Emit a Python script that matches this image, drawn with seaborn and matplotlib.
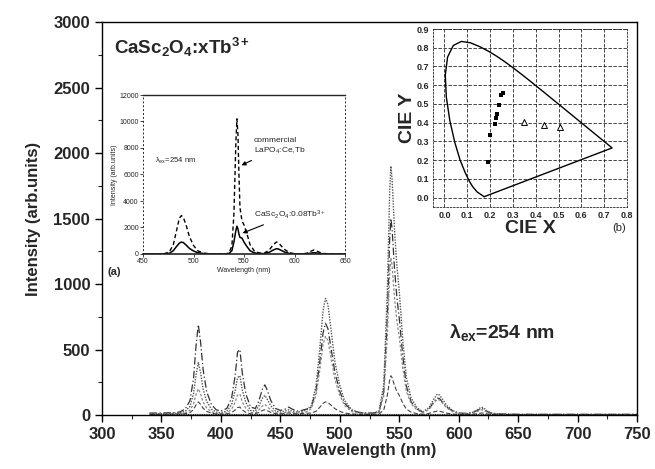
import matplotlib
matplotlib.use("Agg")
import matplotlib.pyplot as plt
import seaborn as sns
import numpy as np

sns.set_theme(style="ticks")
plt.rcParams['font.family'] = ['Liberation Sans', 'DejaVu Sans']
plt.rcParams['mathtext.fontset'] = 'custom'
plt.rcParams['mathtext.rm'] = 'Liberation Sans'
plt.rcParams['mathtext.bf'] = 'Liberation Sans:bold'
plt.rcParams['mathtext.it'] = 'Liberation Sans:italic'
plt.rcParams['mathtext.default'] = 'regular'

# ---------------- main emission spectra ----------------
wl = [340, 350, 360, 365, 370, 374, 377, 379, 381, 383, 385, 388, 392, 396, 400,
      405, 409, 412, 414, 416, 418, 421, 425, 429, 432, 435, 437, 439, 442, 446,
      450, 454, 457, 460, 464, 468, 472, 476, 480, 483, 486, 488, 490, 493, 496,
      500, 504, 510, 516, 522, 528, 533, 537, 540, 542, 543, 544, 546, 548, 550,
      553, 556, 560, 565, 570, 575, 579, 582, 584, 587, 590, 595, 600, 607, 612,
      616, 619, 621, 624, 628, 635, 650, 700, 750]

s1 = [15, 15, 18, 22, 45, 110, 280, 520, 690, 550, 350, 180, 80, 40, 30,
      50, 130, 300, 480, 500, 320, 160, 60, 50, 110, 200, 230, 190, 110, 50,
      35, 45, 60, 45, 30, 35, 45, 60, 180, 390, 630, 700, 660, 490, 320,
      180, 90, 35, 20, 15, 15, 25, 180, 750, 1350, 1500, 1420, 1120, 900, 740,
      450, 220, 100, 45, 20, 45, 100, 130, 125, 90, 60, 30, 15, 12, 20,
      35, 50, 45, 25, 12, 8, 5, 5, 5]

s2 = [10, 10, 12, 15, 28, 65, 165, 300, 400, 320, 200, 105, 45, 22, 18,
      30, 80, 185, 285, 300, 190, 95, 35, 30, 70, 130, 150, 120, 70, 30,
      22, 30, 40, 30, 22, 28, 38, 70, 220, 490, 800, 890, 845, 625, 400,
      225, 110, 40, 20, 14, 14, 30, 230, 950, 1710, 1900, 1800, 1420, 1140, 950,
      570, 285, 130, 55, 25, 56, 120, 160, 152, 112, 72, 34, 14, 10, 20,
      42, 60, 54, 30, 14, 7, 4, 4, 4]

s3 = [8, 8, 9, 10, 16, 35, 85, 155, 200, 160, 100, 55, 24, 12, 10,
      17, 44, 98, 152, 160, 100, 50, 20, 16, 38, 70, 80, 65, 38, 17,
      12, 18, 25, 18, 14, 18, 24, 48, 150, 330, 540, 600, 570, 420, 270,
      150, 72, 26, 14, 10, 10, 20, 145, 600, 1080, 1200, 1140, 900, 720, 600,
      360, 180, 85, 38, 18, 42, 90, 120, 114, 84, 54, 25, 10, 8, 14,
      28, 40, 36, 20, 9, 5, 3, 3, 3]

s4 = [5, 5, 6, 7, 10, 18, 42, 76, 100, 80, 52, 28, 14, 8, 7,
      9, 18, 38, 57, 60, 38, 20, 9, 10, 20, 35, 40, 33, 20, 10,
      8, 12, 16, 12, 9, 11, 14, 14, 28, 57, 90, 100, 95, 72, 48,
      28, 15, 8, 6, 5, 5, 8, 38, 150, 270, 300, 285, 225, 180, 150,
      90, 45, 22, 10, 6, 12, 23, 30, 29, 21, 14, 7, 4, 3, 5,
      11, 15, 14, 8, 4, 3, 2, 2, 2]

main_series = [s1, s2, s3, s4]
main_styles = [("#333333", (0, (6, 2, 1, 2)), 0.9),
               ("#555555", (0, (1, 1)), 1.0),
               ("#888888", (0, (2, 1.5)), 0.9),
               ("#444444", (0, (4, 2)), 0.8)]

baseline_x = [340, 750]
baseline_y = [8, 8]

x_ticks = [300, 350, 400, 450, 500, 550, 600, 650, 700, 750]
y_ticks = [0, 500, 1000, 1500, 2000, 2500, 3000]

# ---------------- inset (a) spectra ----------------
wl_in = [450, 470, 476, 480, 483, 486, 488, 490, 493, 496, 500, 504, 510, 520,
         530, 535, 538, 540, 542, 543, 544, 545, 546, 548, 550, 553, 556, 560,
         565, 570, 575, 579, 582, 584, 587, 590, 595, 600, 607, 612, 616, 619,
         621, 624, 628, 635, 650]
commercial = [0, 0, 150, 700, 1700, 2700, 2900, 2750, 2100, 1300, 650, 250, 60, 0,
              0, 60, 600, 3000, 8500, 10200, 9000, 6000, 3500, 2500, 2200, 1500, 700, 250,
              80, 60, 300, 700, 900, 860, 600, 350, 100, 20, 0, 60, 200, 300,
              270, 150, 50, 0, 0]
casc = [0, 0, 50, 250, 550, 820, 900, 860, 650, 420, 230, 100, 30, 0,
        0, 30, 250, 900, 1800, 2100, 1900, 1500, 1250, 1200, 900, 550, 250, 90,
        30, 30, 130, 300, 400, 380, 270, 150, 40, 10, 0, 20, 60, 100,
        90, 50, 15, 0, 0]

# ---------------- inset (b) CIE chromaticity ----------------
locus_x = [0.1741, 0.1440, 0.1241, 0.1096, 0.0913, 0.0687, 0.0454, 0.0235, 0.0082,
           0.0039, 0.0139, 0.0389, 0.0743, 0.1142, 0.1547, 0.1929, 0.2296, 0.2658,
           0.3016, 0.3373, 0.3731, 0.4441, 0.5125, 0.5752, 0.6270, 0.6915, 0.7190,
           0.7347, 0.1741]
locus_y = [0.0050, 0.0297, 0.0578, 0.0868, 0.1327, 0.2007, 0.2950, 0.4127, 0.5384,
           0.6548, 0.7502, 0.8120, 0.8338, 0.8262, 0.8059, 0.7816, 0.7543, 0.7243,
           0.6923, 0.6589, 0.6245, 0.5547, 0.4866, 0.4242, 0.3725, 0.3083, 0.2809,
           0.2653, 0.0050]
pts_x = [0.19, 0.20, 0.22, 0.225, 0.232, 0.238, 0.25, 0.258]
pts_y = [0.19, 0.335, 0.395, 0.425, 0.445, 0.495, 0.548, 0.558]
tri_x = [0.347, 0.435, 0.506]
tri_y = [0.405, 0.388, 0.378]
cie_ticks_x = [0.0, 0.1, 0.2, 0.3, 0.4, 0.5, 0.6, 0.7, 0.8]
cie_ticks_y = [0.0, 0.1, 0.2, 0.3, 0.4, 0.5, 0.6, 0.7, 0.8, 0.9]

# ======================= figure =======================
fig = plt.figure(figsize=(6.55, 4.69), dpi=100)
ax = fig.add_axes([102/655, 1-415/469, (637-102)/655, (415-22)/469])

for ser, (c, ls, lw) in zip(main_series, main_styles):
    sns.lineplot(x=wl, y=ser, ax=ax, color=c, linestyle=ls, linewidth=lw)
ax.plot(baseline_x, baseline_y, color="#222222", linewidth=0.8, linestyle=(0, (1, 0.6)))

ax.set_xlim(300, 750)
ax.set_ylim(0, 3000)
ax.set_xticks(x_ticks)
ax.set_yticks(y_ticks)
ax.set_xticks(np.arange(325, 750, 50), minor=True)
ax.set_yticks(np.arange(250, 3000, 500), minor=True)
ax.tick_params(axis='both', which='major', direction='out', length=5, width=1,
               labelsize=12, color='black')
ax.tick_params(axis='both', which='minor', direction='out', length=3, width=0.8)
for lab in ax.get_xticklabels() + ax.get_yticklabels():
    lab.set_fontweight('bold')
ax.set_xlabel("Wavelength (nm)", fontsize=12, fontweight='bold', labelpad=1)
ax.set_ylabel("Intensity (arb.units)", fontsize=12, fontweight='bold', labelpad=9)
for sp in ax.spines.values():
    sp.set_visible(True)
    sp.set_color('black')
    sp.set_linewidth(1.0)

ax.text(0.022, 0.965, r"CaSc$_2$O$_4$:xTb$^{3+}$", transform=ax.transAxes,
        fontsize=13.5, fontweight='bold', va='top', ha='left')
ax.text(592, 630, r"$\lambda_{ex}$=254 nm", fontsize=14, fontweight='bold',
        ha='left', va='center')
fig.text(108/655, 1-272/469, "(a)", fontsize=8, fontweight='bold', va='center')
fig.text(612/655, 1-228/469, "(b)", fontsize=8, va='center')

# ---------------- inset (a) ----------------
axa = fig.add_axes([143/655, 1-254/469, (345-143)/655, (254-95)/469])
sns.lineplot(x=wl_in, y=commercial, ax=axa, color='black', linestyle=(0, (3, 2)), linewidth=1.0)
sns.lineplot(x=wl_in, y=casc, ax=axa, color='black', linewidth=1.1)
axa.set_xlim(450, 650)
axa.set_ylim(0, 12000)
axa.set_xticks([450, 500, 550, 600, 650])
axa.set_yticks([0, 2000, 4000, 6000, 8000, 10000, 12000])
axa.tick_params(axis='both', which='major', labelsize=5, length=2, width=0.6, pad=1)
axa.set_xlabel("Wavelength (nm)", fontsize=5, labelpad=1)
axa.set_ylabel("Intensity (arb.units)", fontsize=5, labelpad=1)
axa.patch.set_alpha(0)
for s in ['left', 'right']:
    axa.spines[s].set_linestyle((0, (1, 3)))
    axa.spines[s].set_linewidth(0.7)
axa.spines['top'].set_linewidth(1.0)
axa.spines['bottom'].set_linewidth(1.2)
axa.text(462, 7000, r"$\lambda_{ex}$=254 nm", fontsize=5.5, va='center')
axa.annotate("commercial\nLaPO$_4$:Ce,Tb", xy=(545, 6600), xytext=(560, 8100),
             fontsize=6, va='center', ha='left',
             arrowprops=dict(arrowstyle='-|>', color='black', lw=0.8, mutation_scale=6))
axa.annotate(r"CaSc$_2$O$_4$:0.08Tb$^{3+}$", xy=(546, 1500), xytext=(560, 3000),
             fontsize=6, va='center', ha='left',
             arrowprops=dict(arrowstyle='-|>', color='black', lw=0.8, mutation_scale=6))

# ---------------- inset (b) ----------------
axb = fig.add_axes([433/655, 1-207/469, (627-433)/655, (207-29)/469])
sns.lineplot(x=locus_x, y=locus_y, ax=axb, sort=False, estimator=None,
             color='black', linewidth=1.0)
sns.scatterplot(x=pts_x, y=pts_y, ax=axb, color='black', marker='s', s=9, linewidth=0)
sns.scatterplot(x=tri_x, y=tri_y, ax=axb, marker='^', s=18, facecolor='white',
                edgecolor='black', linewidth=0.7)
axb.set_xlim(-0.05, 0.8)
axb.set_ylim(-0.05, 0.9)
axb.set_xticks(cie_ticks_x)
axb.set_yticks(cie_ticks_y)
axb.set_xticklabels([f"{v:.1f}" for v in cie_ticks_x])
axb.set_yticklabels([f"{v:.1f}" for v in cie_ticks_y])
axb.tick_params(axis='both', labelsize=6.5, length=0, pad=3)
for lab in axb.get_xticklabels() + axb.get_yticklabels():
    lab.set_fontweight('bold')
axb.grid(True, color='#222222', linestyle=(0, (4, 2)), linewidth=0.6)
for sp in axb.spines.values():
    sp.set_linestyle((0, (2, 2)))
    sp.set_linewidth(0.6)
axb.set_xlabel("CIE X", fontsize=14, fontweight='bold', labelpad=0)
axb.set_ylabel("CIE Y", fontsize=14, fontweight='bold', labelpad=0)
axb.patch.set_alpha(0)

fig.savefig("out.png", dpi=100)
